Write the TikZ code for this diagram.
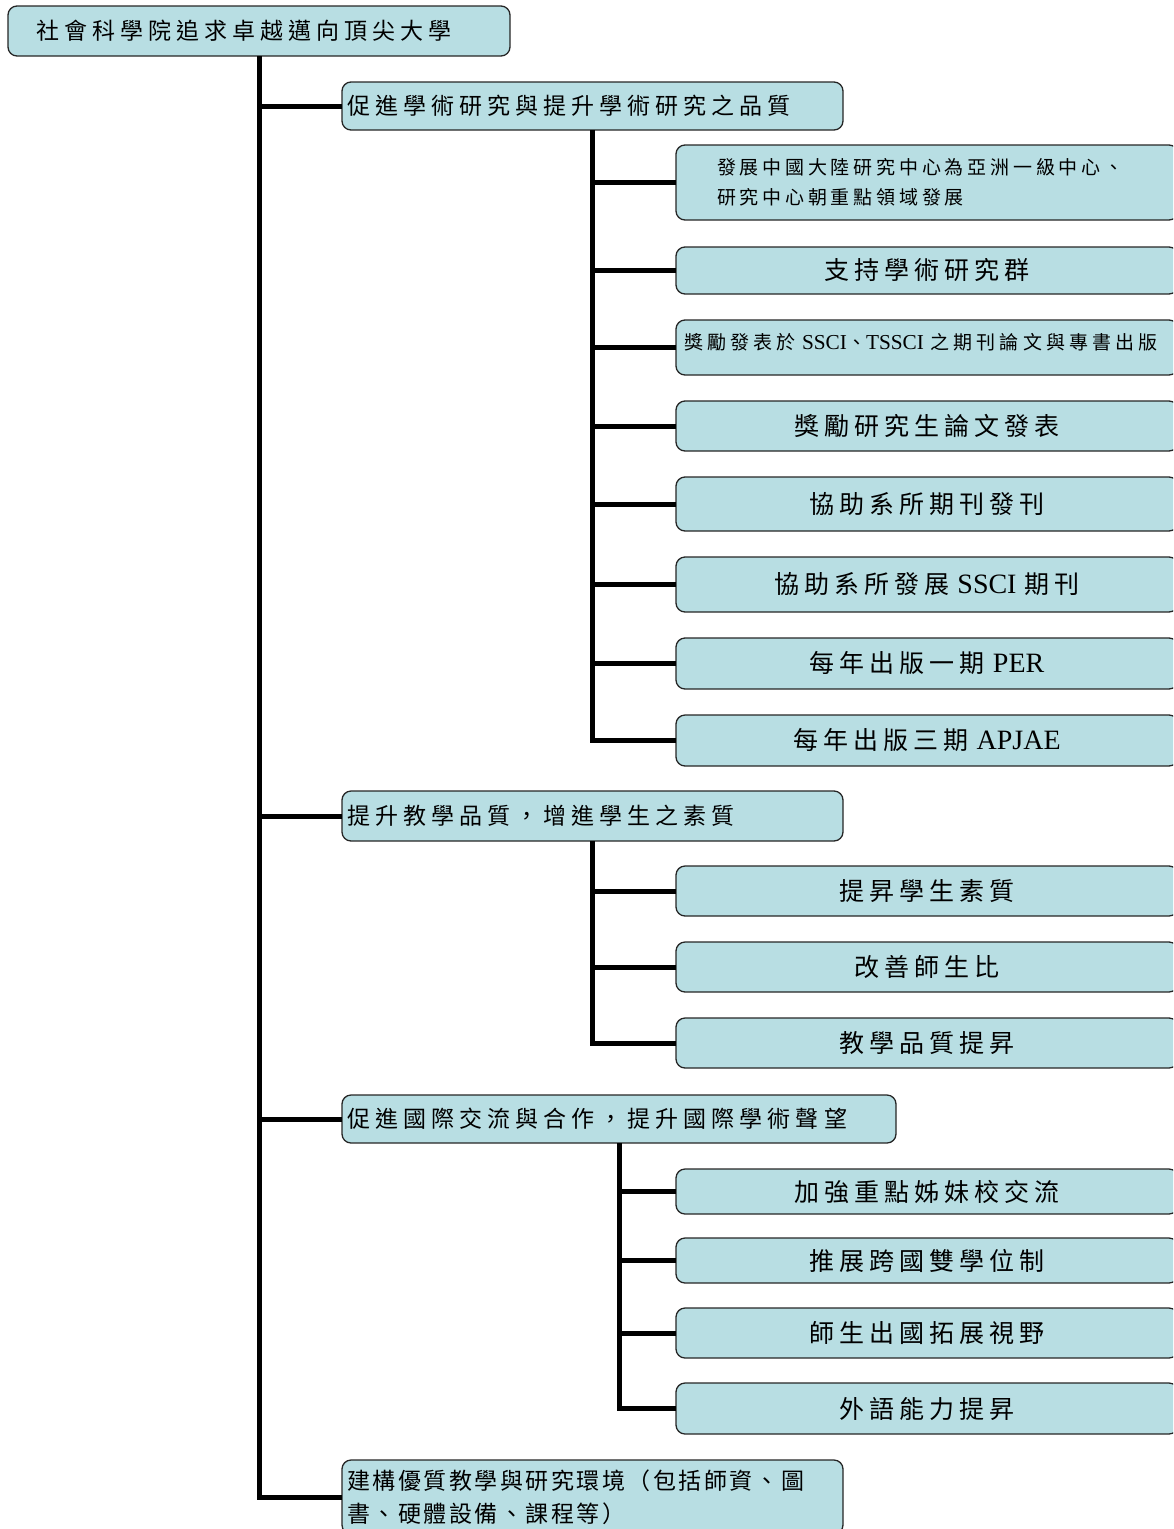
\documentclass[tikz,border=0pt]{standalone}
\usepackage{fontspec}
\setmainfont{Noto Sans CJK TC}
\newfontfamily\cjkA[LetterSpace=22]{Noto Sans CJK TC}
\newfontfamily\cjkAn[LetterSpace=11]{Noto Sans CJK TC}
\newfontfamily\cjkB[LetterSpace=20]{Noto Sans CJK TC}
\newfontfamily\cjkC[LetterSpace=22]{Noto Sans CJK TC}
\newfontfamily\latn[Scale=1.12]{Liberation Serif}
\newcommand{\lat}[1]{{\latn #1}}
\definecolor{boxfill}{HTML}{B8DEE3}
\tikzset{
  box/.style={draw=black!85, line width=1.3pt, fill=boxfill, rounded corners=9pt,
    anchor=north west, inner ysep=0pt, outer sep=0pt},
  lvone/.style={box, inner xsep=5pt, align=left, font=\cjkA\fontsize{23}{33}\selectfont},
  rootbox/.style={box, inner xsep=28pt, align=left, font=\cjkA\fontsize{23}{33}\selectfont},
  leaf/.style={box, inner xsep=8pt, align=center, minimum width=502pt, text width=486pt,
    font=\cjkB\fontsize{25}{30}\selectfont},
  smallleaf/.style={box, minimum width=502pt, align=left,
    font=\cjkC\fontsize{19}{30}\selectfont},
  trunk/.style={line width=5pt, draw=black}
}
\begin{document}
\begin{tikzpicture}[x=1pt,y=-1pt]
\useasboundingbox (0,0) rectangle (1173,1529);
\clip (0,0) rectangle (1173,1529);
% root
\node[rootbox, minimum width=502pt, minimum height=50pt, text width=446pt] (root) at (8,6) {社會科學院追求卓越邁向頂尖大學};
% level 1
\node[lvone, minimum width=501pt, minimum height=48pt, text width=491pt] (la) at (342,82) {促進學術研究與提升學術研究之品質};
\node[lvone, minimum width=501pt, minimum height=50pt, text width=491pt] (lb) at (342,791) {提升教學品質，增進學生之素質};
\node[lvone, minimum width=554pt, minimum height=48pt, text width=544pt] (lc) at (342,1095) {促進國際交流與合作，提升國際學術聲望};
\node[lvone, minimum width=501pt, minimum height=74pt, text width=491pt, font=\cjkAn\fontsize{23}{33}\selectfont] (ld) at (342,1460) {建構優質教學與研究環境（包括師資、圖\\書、硬體設備、課程等）};
% children of la
\node[smallleaf, minimum height=75pt, inner xsep=41pt, text width=420pt, font=\cjkB\fontsize{19}{30}\selectfont] (a1) at (676,145) {發展中國大陸研究中心為亞洲一級中心、\\研究中心朝重點領域發展};
\node[leaf, minimum height=47pt] (a2) at (676,247) {支持學術研究群};
\node[smallleaf, minimum height=55pt, inner xsep=8pt, text width=486pt] (a3) at (676,320) {\raisebox{13pt}{獎勵發表於 \lat{SSCI}、\lat{TSSCI} 之期刊論文與專書出版}};
\node[leaf, minimum height=50pt] (a4) at (676,401) {獎勵研究生論文發表};
\node[leaf, minimum height=54pt] (a5) at (676,477) {協助系所期刊發刊};
\node[leaf, minimum height=55pt] (a6) at (676,557) {協助系所發展 \lat{SSCI} 期刊};
\node[leaf, minimum height=51pt] (a7) at (676,638) {每年出版一期 \lat{PER}};
\node[leaf, minimum height=51pt] (a8) at (676,715) {每年出版三期 \lat{APJAE}};
% children of lb
\node[leaf, minimum height=50pt] (b1) at (676,866) {提昇學生素質};
\node[leaf, minimum height=50pt] (b2) at (676,942) {改善師生比};
\node[leaf, minimum height=50pt] (b3) at (676,1018) {教學品質提昇};
% children of lc
\node[leaf, minimum height=45pt] (c1) at (676,1169) {加強重點姊妹校交流};
\node[leaf, minimum height=45pt] (c2) at (676,1238) {推展跨國雙學位制};
\node[leaf, minimum height=50pt] (c3) at (676,1308) {師生出國拓展視野};
\node[leaf, minimum height=51pt] (c4) at (676,1383) {外語能力提昇};
% connectors
\foreach \n in {la,lb,lc,ld} \draw[trunk] (root.south) |- (\n.west);
\foreach \n in {a1,a2,a3,a4,a5,a6,a7,a8} \draw[trunk] (la.south) |- (\n.west);
\foreach \n in {b1,b2,b3} \draw[trunk] (lb.south) |- (\n.west);
\foreach \n in {c1,c2,c3,c4} \draw[trunk] (lc.south) |- (\n.west);
\end{tikzpicture}
\end{document}
